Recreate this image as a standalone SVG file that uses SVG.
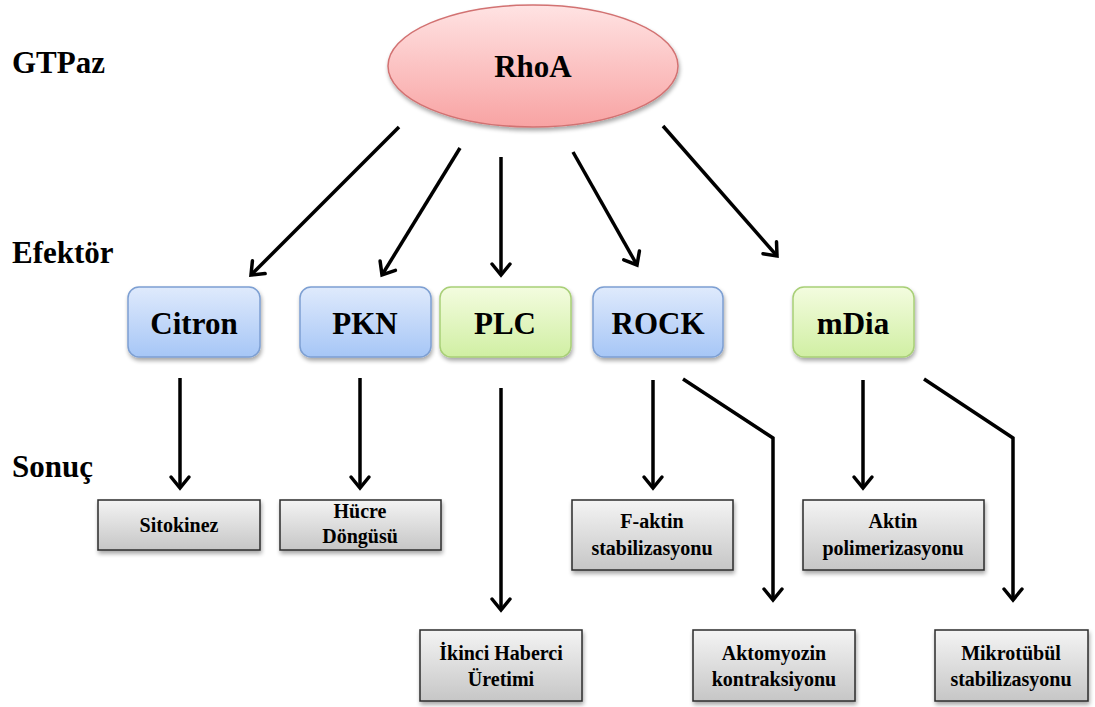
<svg xmlns="http://www.w3.org/2000/svg" width="1095" height="707" viewBox="0 0 1095 707">
<defs>
  <linearGradient id="gRed" x1="0" y1="0" x2="0" y2="1">
    <stop offset="0" stop-color="#ffe3e3"/>
    <stop offset="1" stop-color="#f8a3a3"/>
  </linearGradient>
  <linearGradient id="gBlue" x1="0" y1="0" x2="0" y2="1">
    <stop offset="0" stop-color="#dfeafc"/>
    <stop offset="1" stop-color="#a6c6f6"/>
  </linearGradient>
  <linearGradient id="gGreen" x1="0" y1="0" x2="0" y2="1">
    <stop offset="0" stop-color="#f3fcdf"/>
    <stop offset="1" stop-color="#d0efa3"/>
  </linearGradient>
  <linearGradient id="gGray" x1="0" y1="0" x2="0" y2="1">
    <stop offset="0" stop-color="#f4f4f4"/>
    <stop offset="1" stop-color="#c6c6c6"/>
  </linearGradient>
  <filter id="shadow" x="-10%" y="-10%" width="125%" height="135%">
    <feGaussianBlur in="SourceAlpha" stdDeviation="2"/>
    <feOffset dx="1" dy="3" result="b"/>
    <feComponentTransfer><feFuncA type="linear" slope="0.35"/></feComponentTransfer>
    <feMerge><feMergeNode/><feMergeNode in="SourceGraphic"/></feMerge>
  </filter>
  <marker id="arr" markerUnits="userSpaceOnUse" markerWidth="30" markerHeight="30" viewBox="-15 -15 30 30" refX="0" refY="0" orient="auto">
    <path d="M-11,-9 L0,0 L-11,9" fill="none" stroke="#000" stroke-width="3.5" stroke-linecap="round" stroke-linejoin="miter"/>
  </marker>
</defs>
<style>
  text { font-family: "Liberation Serif", "Times New Roman", serif; font-weight: bold; fill: #000; }
  .lbl { font-size: 31px; }
  .eff { font-size: 31px; text-anchor: middle; }
  .res { font-size: 20px; text-anchor: middle; }
  .blue { fill: url(#gBlue); stroke: #7d9fd2; stroke-width: 1.5; }
  .green { fill: url(#gGreen); stroke: #a8cf77; stroke-width: 1.5; }
  .gray { fill: url(#gGray); stroke: #2b2b2b; stroke-width: 1.5; }
  .conn { fill: none; stroke: #000; stroke-width: 3.5; marker-end: url(#arr); stroke-linejoin: miter; }
</style>

<rect width="1095" height="707" fill="#ffffff"/>

<g id="labels">
  <text class="lbl" x="12" y="73">GTPaz</text>
  <text class="lbl" x="12" y="263">Efektör</text>
  <text class="lbl" x="12" y="477">Sonuç</text>
</g>

<g id="connectors">
  <line class="conn" x1="399" y1="127" x2="251" y2="275"/>
  <line class="conn" x1="460" y1="148" x2="382" y2="275"/>
  <line class="conn" x1="501" y1="157" x2="501" y2="275"/>
  <line class="conn" x1="573" y1="152" x2="637" y2="265"/>
  <line class="conn" x1="663" y1="126" x2="777" y2="256"/>
  <line class="conn" x1="180" y1="378" x2="180" y2="488"/>
  <line class="conn" x1="360" y1="378" x2="360" y2="488"/>
  <line class="conn" x1="501" y1="388" x2="501" y2="610"/>
  <line class="conn" x1="653" y1="380" x2="653" y2="488"/>
  <polyline class="conn" points="683,379 773,438 773,600"/>
  <line class="conn" x1="863" y1="380" x2="863" y2="488"/>
  <polyline class="conn" points="924,379 1013,438 1013,600"/>
</g>

<g id="node-rhoa">
  <ellipse cx="533" cy="66" rx="145" ry="61" fill="url(#gRed)" stroke="#d27272" stroke-width="1.5" filter="url(#shadow)"/>
  <text class="eff" x="533" y="77">RhoA</text>
</g>

<g id="node-citron">
  <rect class="blue" x="128" y="287" width="132" height="70" rx="11" filter="url(#shadow)"/>
  <text class="eff" x="194" y="334">Citron</text>
</g>
<g id="node-pkn">
  <rect class="blue" x="300" y="287" width="131" height="70" rx="11" filter="url(#shadow)"/>
  <text class="eff" x="365" y="334">PKN</text>
</g>
<g id="node-plc">
  <rect class="green" x="440" y="287" width="131" height="70" rx="11" filter="url(#shadow)"/>
  <text class="eff" x="505" y="334">PLC</text>
</g>
<g id="node-rock">
  <rect class="blue" x="593" y="287" width="130" height="70" rx="11" filter="url(#shadow)"/>
  <text class="eff" x="658" y="334">ROCK</text>
</g>
<g id="node-mdia">
  <rect class="green" x="793" y="287" width="121" height="70" rx="11" filter="url(#shadow)"/>
  <text class="eff" x="853" y="334">mDia</text>
</g>

<g id="node-sitokinez">
  <rect class="gray" x="98" y="500" width="162" height="50" filter="url(#shadow)"/>
  <text class="res" x="179" y="532">Sitokinez</text>
</g>
<g id="node-hucre">
  <rect class="gray" x="280" y="500" width="161" height="50" filter="url(#shadow)"/>
  <text class="res" x="360" y="518">Hücre</text>
  <text class="res" x="360" y="543">Döngüsü</text>
</g>
<g id="node-faktin">
  <rect class="gray" x="572" y="500" width="161" height="70" filter="url(#shadow)"/>
  <text class="res" x="652" y="528">F-aktin</text>
  <text class="res" x="652" y="555">stabilizasyonu</text>
</g>
<g id="node-aktinpol">
  <rect class="gray" x="803" y="500" width="181" height="70" filter="url(#shadow)"/>
  <text class="res" x="893" y="528">Aktin</text>
  <text class="res" x="893" y="555">polimerizasyonu</text>
</g>
<g id="node-ikinci">
  <rect class="gray" x="420" y="630" width="162" height="71" filter="url(#shadow)"/>
  <text class="res" x="501" y="660">İkinci Haberci</text>
  <text class="res" x="501" y="686">Üretimi</text>
</g>
<g id="node-aktomyozin">
  <rect class="gray" x="693" y="630" width="162" height="71" filter="url(#shadow)"/>
  <text class="res" x="774" y="660">Aktomyozin</text>
  <text class="res" x="774" y="686">kontraksiyonu</text>
</g>
<g id="node-mikrotubul">
  <rect class="gray" x="935" y="630" width="153" height="71" filter="url(#shadow)"/>
  <text class="res" x="1011" y="660">Mikrotübül</text>
  <text class="res" x="1011" y="686">stabilizasyonu</text>
</g>
</svg>
